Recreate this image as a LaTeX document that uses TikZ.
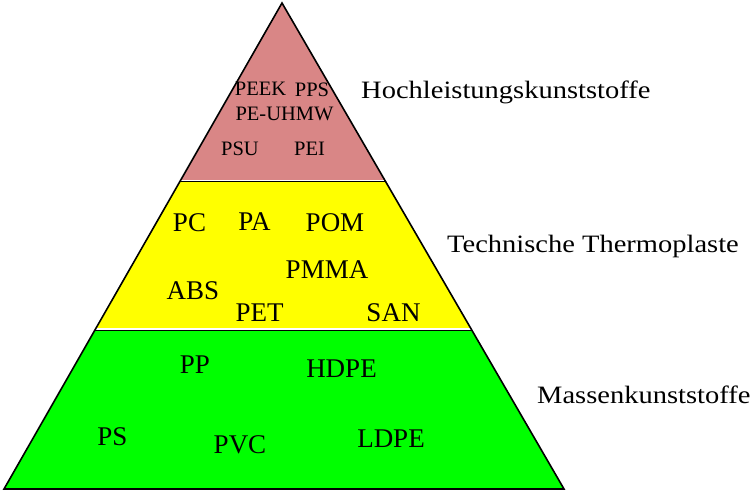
\documentclass[tikz,border=0pt]{standalone}
\usepackage{fontspec}
\setmainfont{Liberation Serif}
\newfontfamily\widefont[FakeStretch=1.14]{Liberation Serif}
\usetikzlibrary{calc}
\definecolor{toppink}{RGB}{217,134,134}
\definecolor{midyellow}{RGB}{255,255,0}
\definecolor{lowgreen}{RGB}{0,255,0}
\tikzset{
  tier/.style={inner sep=0pt, anchor=base, font=\fontsize{27}{30}\selectfont},
  toptier/.style={inner sep=0pt, anchor=base, font=\fontsize{20.5}{23}\selectfont},
  sidelabel/.style={inner sep=0pt, anchor=base west, font=\widefont\fontsize{25}{28}\selectfont},
  gapline/.style={draw=white, line width=1.4pt},
  sepline/.style={draw=black, line width=1.4pt},
  outline/.style={draw=black, line width=1.6pt, line join=miter}
}
\begin{document}
\begin{tikzpicture}[x=1pt,y=-1pt]
\useasboundingbox (0,0) rectangle (750,493);
\coordinate (A) at (282,3);
\coordinate (BL) at (4,489);
\coordinate (BR) at (564,489);
\coordinate (L1) at ($(A)!0.3677!(BL)$);
\coordinate (R1) at ($(A)!0.3677!(BR)$);
\coordinate (L1w) at ($(A)!0.3648!(BL)$);
\coordinate (R1w) at ($(A)!0.3648!(BR)$);
\coordinate (L2) at ($(A)!0.6739!(BL)$);
\coordinate (R2) at ($(A)!0.6739!(BR)$);
\coordinate (L2w) at ($(A)!0.6710!(BL)$);
\coordinate (R2w) at ($(A)!0.6710!(BR)$);
% fills
\fill[toppink] (A) -- (R1) -- (L1) -- cycle;
\fill[midyellow] (L1) -- (R1) -- (R2) -- (L2) -- cycle;
\fill[lowgreen] (L2) -- (R2) -- (BR) -- (BL) -- cycle;
% separators
\draw[gapline] (L1w) -- (R1w);
\draw[sepline] (L1) -- (R1);
\draw[gapline] (L2w) -- (R2w);
\draw[sepline] (L2) -- (R2);
% outline
\draw[outline] (A) -- (BR) -- (BL) -- cycle;
% top tier
\node[toptier] (peek) at (260.5,95) {PEEK};
\node[toptier] (pps) at (312,96.5) {PPS};
\node[toptier] (peuhmw) at (284.5,120.5) {PE-UHMW};
\node[toptier] (psu) at (240,155.5) {PSU};
\node[toptier] (pei) at (309.5,155.5) {PEI};
% middle tier
\node[tier] (pc) at (189.5,231) {PC};
\node[tier] (pa) at (254.5,230) {PA};
\node[tier] (pom) at (335,231) {POM};
\node[tier] (pmma) at (327,278) {PMMA};
\node[tier] (abs) at (193,299) {ABS};
\node[tier] (pet) at (259.5,321) {PET};
\node[tier] (san) at (393.5,321) {SAN};
% bottom tier
\node[tier] (pp) at (195,373) {PP};
\node[tier] (hdpe) at (341.5,377) {HDPE};
\node[tier] (ps) at (112.5,445) {PS};
\node[tier] (pvc) at (240,453) {PVC};
\node[tier] (ldpe) at (391,447) {LDPE};
% side labels
\node[sidelabel] (hoch) at (361,98) {Hochleistungskunststoffe};
\node[sidelabel] (tech) at (447,252) {Technische Thermoplaste};
\node[sidelabel] (mass) at (537,403) {Massenkunststoffe};
\end{tikzpicture}
\end{document}
